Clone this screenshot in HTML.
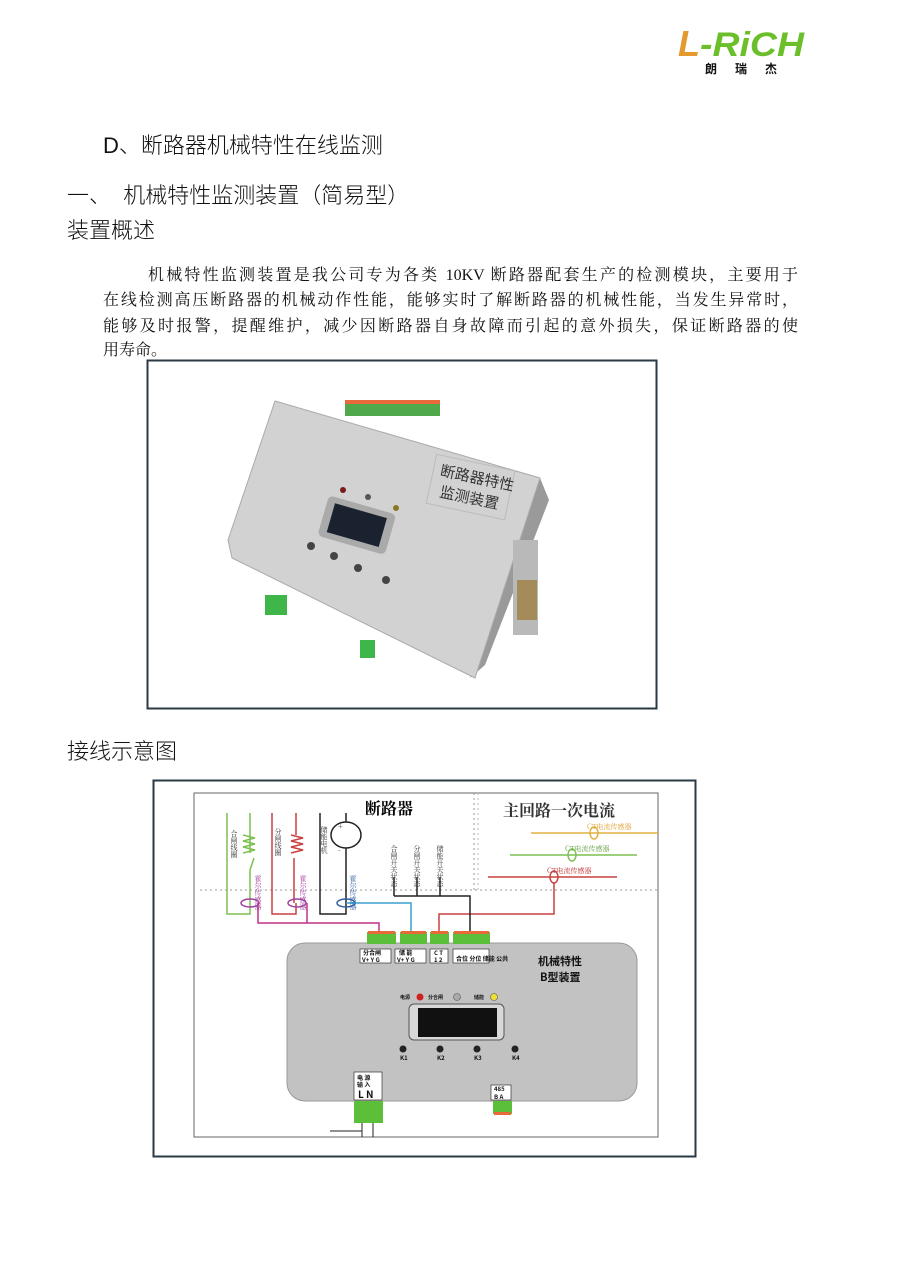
<!DOCTYPE html>
<html><head><meta charset="utf-8"><style>
body{margin:0;background:#fff;width:900px;height:1272px;position:relative;overflow:hidden;font-family:"Liberation Serif","Noto Serif CJK SC",serif;color:#111}
.a{position:absolute;white-space:nowrap}
.h{font-size:22px;font-family:"Liberation Sans","Noto Sans CJK SC",sans-serif;font-weight:300}
.p{font-size:16px;width:695px;text-align:justify;text-align-last:justify;left:103px}
</style></head><body>
<div class="a" style="left:678px;top:26px;width:130px;height:34px">
<svg width="130" height="34"><text x="0" y="30" font-family="Liberation Sans,sans-serif" font-weight="bold" font-style="italic" font-size="36" fill="#e49a2c">L</text><text x="22" y="30" font-family="Liberation Sans,sans-serif" font-weight="bold" font-style="italic" font-size="34" fill="#6bbf2a" textLength="104" lengthAdjust="spacingAndGlyphs">-RiCH</text></svg></div>
<div class="a" style="left:705px;top:60px;font-size:12px;font-weight:bold;letter-spacing:18px;font-family:'Noto Sans CJK SC',sans-serif">朗瑞杰</div>

<div class="a h" style="left:103px;top:128px">D、断路器机械特性在线监测</div>
<div class="a h" style="left:67px;top:178px">一、&nbsp; 机械特性监测装置（简易型）</div>
<div class="a h" style="left:67px;top:213px">装置概述</div>
<div class="a p" style="top:262px;left:148px;width:650px">机械特性监测装置是我公司专为各类 10KV 断路器配套生产的检测模块，主要用于</div>
<div class="a p" style="top:287px">在线检测高压断路器的机械动作性能，能够实时了解断路器的机械性能，当发生异常时，</div>
<div class="a p" style="top:313px">能够及时报警，提醒维护，减少因断路器自身故障而引起的意外损失，保证断路器的使</div>
<div class="a" style="top:337px;left:103px;font-size:16px">用寿命。</div>

<svg class="a" style="left:0;top:0" width="900" height="1272">
<rect x="147.5" y="360.5" width="509" height="348" fill="#fff" stroke="#2a3a44" stroke-width="2"/>
<!-- device photo -->
<polygon points="540,478 549,500 485,665 470,678" fill="#9a9a9a"/>
<rect x="345" y="400" width="95" height="16" fill="#4fa84a"/>
<rect x="345" y="400" width="95" height="4" fill="#e86a3a"/>
<polygon points="275,401 540,478 475,678 232,558 228,540" fill="#d2d2d2" stroke="#aaa"/>
<rect x="513" y="540" width="25" height="95" fill="#b9b9b9"/>
<rect x="517" y="580" width="20" height="40" fill="#a58a5a"/>
<rect x="265" y="595" width="22" height="20" fill="#3fb64a"/>
<rect x="360" y="640" width="15" height="18" fill="#3fb64a"/>
<g transform="rotate(16 360 525)"><rect x="322" y="505" width="70" height="42" rx="5" fill="#aaa"/><rect x="330" y="511" width="54" height="30" fill="#1a2230"/></g>
<circle cx="311" cy="546" r="4" fill="#444"/><circle cx="334" cy="556" r="4" fill="#444"/><circle cx="358" cy="568" r="4" fill="#444"/><circle cx="386" cy="580" r="4" fill="#444"/>
<circle cx="343" cy="490" r="3" fill="#7a1a1a"/><circle cx="368" cy="497" r="3" fill="#555"/><circle cx="396" cy="508" r="3" fill="#887722"/>
<g transform="rotate(12 470 490)"><rect x="430" y="462" width="80" height="50" fill="none" stroke="#bbb"/>
<text x="437" y="482" font-size="15" fill="#333" font-family="Noto Sans CJK SC,sans-serif">断路器特性</text><text x="441" y="503" font-size="15" fill="#333" font-family="Noto Sans CJK SC,sans-serif">监测装置</text></g>

<!-- diagram -->
<rect x="153.5" y="780.5" width="542" height="376" fill="#fff" stroke="#2a3a44" stroke-width="2"/>
<rect x="194" y="793" width="464" height="344" fill="#fff" stroke="#666"/>
<line x1="200" y1="890" x2="658" y2="890" stroke="#999" stroke-dasharray="2,3"/>
<line x1="474" y1="793" x2="474" y2="890" stroke="#999" stroke-dasharray="2,3"/>
<line x1="478" y1="793" x2="478" y2="890" stroke="#bbb" stroke-dasharray="2,3"/>
<text x="365" y="814" font-size="16" font-weight="bold" font-family="Noto Serif CJK SC,serif">断路器</text>
<text x="503" y="816" font-size="16" font-weight="bold" font-family="Noto Serif CJK SC,serif" fill="#333">主回路一次电流</text>
<g fill="none" stroke-width="1.5">
<path d="M531 833H658" stroke="#e0b040"/><ellipse cx="594" cy="833" rx="4" ry="6" stroke="#e0b040"/>
<path d="M510 855H637" stroke="#7cc050"/><ellipse cx="572" cy="855" rx="4" ry="6" stroke="#7cc050"/>
<path d="M488 877H617" stroke="#c84040"/><ellipse cx="554" cy="877" rx="4" ry="6" stroke="#c84040"/>
<path d="M554 883V914H439V934" stroke="#c84040"/>
<path d="M227 813V914H250V903M250 813V853" stroke="#7cc050"/>
<path d="M243 835l12 3-12 3 12 3-12 3 12 3-12 3M254 858 250 870V903" stroke="#7cc050"/>
<path d="M272 813V914H296V903M296 813V835" stroke="#c84040"/>
<path d="M291 835l12 3-12 3 12 3-12 3 12 3-12 3M294 858V903" stroke="#c84040"/>
<path d="M320 813V914H346V848M346 813V822" stroke="#222"/>
<ellipse cx="346" cy="835" rx="15" ry="13" stroke="#222"/>
<ellipse cx="250" cy="903" rx="9" ry="4" stroke="#a040a0"/><ellipse cx="297" cy="903" rx="9" ry="4" stroke="#a040a0"/><ellipse cx="346" cy="903" rx="9" ry="4" stroke="#3060a0"/>
<path d="M258 903V923H379V932M307 903V923" stroke="#c0308a"/>
<path d="M346 903H411V932" stroke="#3aa0d0"/>
<path d="M394 877V896M417 877V896M440 877V896M394 896H470V932" stroke="#222"/>
</g>
<g font-size="7" fill="#333" font-family="Noto Serif CJK SC,serif">
<text x="587" y="829" fill="#e0a030">CT电流传感器</text><text x="565" y="851" fill="#60a040">CT电流传感器</text><text x="547" y="873" fill="#c03030">CT电流传感器</text>
<text writing-mode="tb" x="234" y="830">合闸线圈</text><text writing-mode="tb" x="278" y="828">分闸线圈</text><text writing-mode="tb" x="324" y="826">储能电机</text>
<text writing-mode="tb" x="258" y="875" fill="#a040a0">霍尔传感器</text><text writing-mode="tb" x="303" y="875" fill="#a040a0">霍尔传感器</text><text writing-mode="tb" x="353" y="875" fill="#3060a0">霍尔传感器</text>
<text writing-mode="tb" x="394" y="845">合闸开关状态</text><text writing-mode="tb" x="417" y="845">分闸开关状态</text><text writing-mode="tb" x="440" y="845">储能开关状态</text>
<text x="338" y="829" font-size="8">+</text><text x="338" y="853" font-size="8">-</text>
</g>
<rect x="287" y="943" width="350" height="158" rx="18" fill="#c2c2c2" stroke="#999"/>
<g fill="#5bbf3a"><rect x="367" y="932" width="29" height="12"/><rect x="400" y="932" width="27" height="12"/><rect x="430" y="932" width="19" height="12"/><rect x="453" y="932" width="37" height="12"/>
<rect x="354" y="1101" width="29" height="22"/><rect x="493" y="1101" width="19" height="13"/></g>
<g fill="#e86a3a"><rect x="368" y="931" width="27" height="3"/><rect x="401" y="931" width="25" height="3"/><rect x="431" y="931" width="17" height="3"/><rect x="454" y="931" width="35" height="3"/><rect x="494" y="1112" width="17" height="3"/></g>
<g fill="#fff" stroke="#333" stroke-width="0.7"><rect x="360" y="949" width="31" height="14"/><rect x="395" y="949" width="31" height="14"/><rect x="430" y="949" width="18" height="14"/><rect x="453" y="949" width="36" height="14"/>
<rect x="354" y="1072" width="28" height="28"/><rect x="491" y="1085" width="20" height="15"/></g>
<g font-size="6" font-weight="bold" font-family="Noto Sans CJK SC,sans-serif" fill="#111">
<text x="363" y="955">分合闸</text><text x="399" y="955">储 能</text><text x="434" y="955">C T</text><text x="456" y="961">合位 分位 储能 公共</text>
<text x="362" y="962">V+ Y G</text><text x="397" y="962">V+ Y G</text><text x="434" y="962">1 2</text>
<text x="357" y="1080">电 源</text><text x="357" y="1087">输 入</text><text x="358" y="1098" font-size="10">L N</text>
<text x="494" y="1091">485</text><text x="494" y="1099">B A</text>
<text x="538" y="965" font-size="11">机械特性</text><text x="540" y="981" font-size="11">B型装置</text>
<text x="400" y="999" font-size="5">电源</text><text x="428" y="999" font-size="5">分合闸</text><text x="474" y="999" font-size="5">储能</text>
<text x="400" y="1060">K1</text><text x="437" y="1060">K2</text><text x="474" y="1060">K3</text><text x="512" y="1060">K4</text>
</g>
<circle cx="420" cy="997" r="3.5" fill="#d02020"/><circle cx="457" cy="997" r="3.5" fill="#aaa" stroke="#555" stroke-width=".6"/><circle cx="494" cy="997" r="3.5" fill="#f0e030" stroke="#555" stroke-width=".6"/>
<rect x="409" y="1004" width="95" height="36" rx="5" fill="#d8d8d8" stroke="#555"/><rect x="418" y="1008" width="79" height="29" fill="#111"/>
<g fill="#222"><circle cx="403" cy="1049" r="3.5"/><circle cx="440" cy="1049" r="3.5"/><circle cx="477" cy="1049" r="3.5"/><circle cx="515" cy="1049" r="3.5"/></g>
<path d="M362 1123V1137M373 1123V1137M330 1131H362" stroke="#222" fill="none"/>
</svg>
<div class="a h" style="left:67px;top:734px">接线示意图</div>
</body></html>
